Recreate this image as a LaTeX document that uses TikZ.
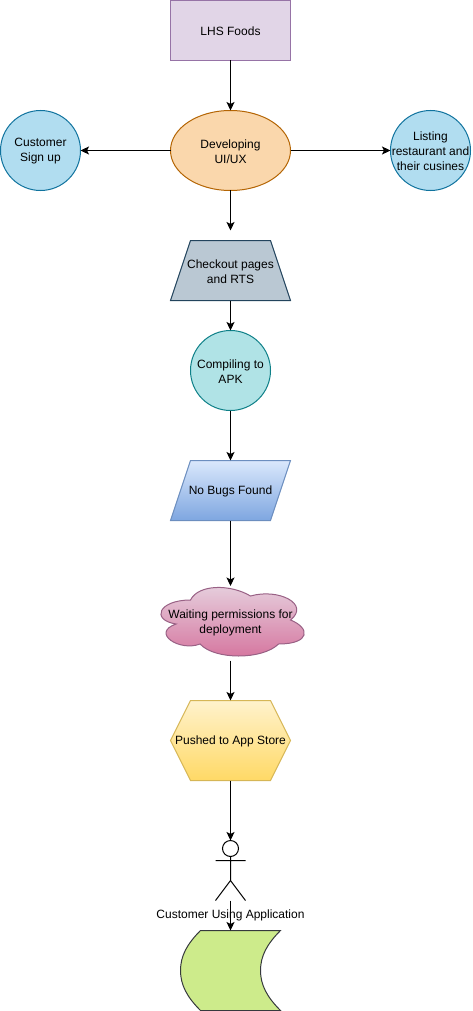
\documentclass[tikz,border=0pt]{standalone}
\usepackage{fontspec}
\setmainfont{Liberation Sans}
\usetikzlibrary{arrows.meta,shapes.geometric}
\definecolor{rectfill}{HTML}{E1D5E7}\definecolor{rectline}{HTML}{9673A6}
\definecolor{orangefill}{HTML}{FAD7AC}\definecolor{orangeline}{HTML}{B46504}
\definecolor{bluefill}{HTML}{B1DDF0}\definecolor{blueline}{HTML}{10739E}
\definecolor{greyfill}{HTML}{BAC8D3}\definecolor{greyline}{HTML}{23445D}
\definecolor{tealfill}{HTML}{B0E3E6}\definecolor{tealline}{HTML}{0E8088}
\definecolor{skytop}{HTML}{DAE8FC}\definecolor{skybot}{HTML}{7EA6E0}\definecolor{skyline}{HTML}{6C8EBF}
\definecolor{pinktop}{HTML}{E6D0DE}\definecolor{pinkbot}{HTML}{D5739D}\definecolor{pinkline}{HTML}{996185}
\definecolor{yellowtop}{HTML}{FFF2CC}\definecolor{yellowbot}{HTML}{FFD966}\definecolor{yellowline}{HTML}{D6B656}
\definecolor{limefill}{HTML}{CDEB8B}\definecolor{limeline}{HTML}{36393D}
\begin{document}
\begin{tikzpicture}[x=1pt,y=-1pt,line width=1pt,
  every node/.style={inner sep=0pt,outer sep=0pt,align=center,font=\fontsize{12}{15}\selectfont},
  txt/.style={label={[yshift=-1pt]center:{#1}}},
  box/.style={minimum width=120pt,minimum height=#1},
  round/.style={circle,minimum size=80pt,draw=blueline,fill=bluefill},
  link/.style={draw=black,-{Stealth[length=8.5pt,width=8pt,inset=2pt]}},
  stick/.style={line width=1pt,draw=black}]
\useasboundingbox (0,0) rectangle (472,1011);
% shapes drawn directly
\draw[rectline,fill=rectfill] (170.5,0.5) rectangle (290.5,60.5);
\draw[greyline,fill=greyfill] (190.5,240.5) -- (270.5,240.5) -- (290.5,300.5) -- (170.5,300.5) -- cycle;
\draw[skyline,top color=skytop,bottom color=skybot] (190.5,460.5) -- (290.5,460.5) -- (270.5,520.5) -- (170.5,520.5) -- cycle;
\draw[pinkline,top color=pinktop,bottom color=pinkbot]
  (190.5,600) .. controls (158.5,600) and (150.5,620) .. (176.1,624)
  .. controls (150.5,632.8) and (179.3,652) .. (200.1,644)
  .. controls (214.5,660) and (262.5,660) .. (278.5,644)
  .. controls (310.5,644) and (310.5,628) .. (290.5,620)
  .. controls (310.5,604) and (278.5,588) .. (250.5,596)
  .. controls (230.5,584) and (198.5,584) .. (190.5,600) -- cycle;
\draw[yellowline,top color=yellowtop,bottom color=yellowbot] (190.5,700.5) -- (270.5,700.5) -- (290.5,740.5) -- (270.5,780.5) -- (190.5,780.5) -- (170.5,740.5) -- cycle;
\draw[limeline,fill=limefill] (200.5,930.5) -- (280.5,930.5) .. controls (267,944) and (260.5,956) .. (260.5,970.5) .. controls (260.5,985) and (267,997) .. (280.5,1010.5) -- (200.5,1010.5) .. controls (187,997) and (180.5,985) .. (180.5,970.5) .. controls (180.5,956) and (187,944) .. (200.5,930.5) -- cycle;
% actor
\draw[stick] (230.5,848.5) circle (8pt);
\draw[stick] (230.5,856.5) -- (230.5,880.5) (215.5,860.5) -- (245.5,860.5) (215.5,900.5) -- (230.5,880.5) -- (245.5,900.5);
% nodes
\node[box=60pt,txt={LHS Foods}] (foods) at (230.5,30.5) {};
\node[ellipse,minimum width=120pt,minimum height=80pt,draw=orangeline,fill=orangefill,txt={Developing\\UI/UX}] (dev) at (230.5,150.5) {};
\node[round,txt={Customer\\Sign up}] (signup) at (40.5,150.5) {};
\node[round,txt={Listing\\restaurant and\\their cusines}] (listing) at (430.5,150.5) {};
\coordinate (devend) at (230.5,230.5);
\node[box=60pt,txt={Checkout pages\\and RTS}] (checkout) at (230.5,270.5) {};
\node[circle,minimum size=80pt,draw=tealline,fill=tealfill,txt={Compiling to\\APK}] (apk) at (230.5,370.5) {};
\node[box=60pt,txt={No Bugs Found}] (bugs) at (230.5,490.5) {};
\node[minimum width=160pt,minimum height=80pt,label={[yshift=-2pt]center:{Waiting permissions for\\deployment}}] (wait) at (230.5,620.5) {};
\node[box=80pt,txt={Pushed to App Store}] (store) at (230.5,740.5) {};
\node[minimum width=30pt,minimum height=60pt] (actor) at (230.5,870.5) {};
\node (actorlabel) at (230.5,915) {Customer Using Application};
\node[minimum width=100pt,minimum height=80pt] (data) at (230.5,970.5) {};
\coordinate (waittop) at (230.5,586);
% connectors
\draw[link] (foods.south) -- (dev.north);
\draw[link] (dev.west) -- (signup.east);
\draw[link] (dev.east) -- (listing.west);
\draw[link] (dev.south) -- (devend);
\draw[link] (checkout.south) -- (apk.north);
\draw[link] (apk.south) -- (bugs.north);
\draw[link] (bugs.south) -- (waittop);
\draw[link] (wait.south) -- (store.north);
\draw[link] (store.south) -- (actor.north);
\draw[link] (actor.south) -- (data.north);
\end{tikzpicture}
\end{document}
